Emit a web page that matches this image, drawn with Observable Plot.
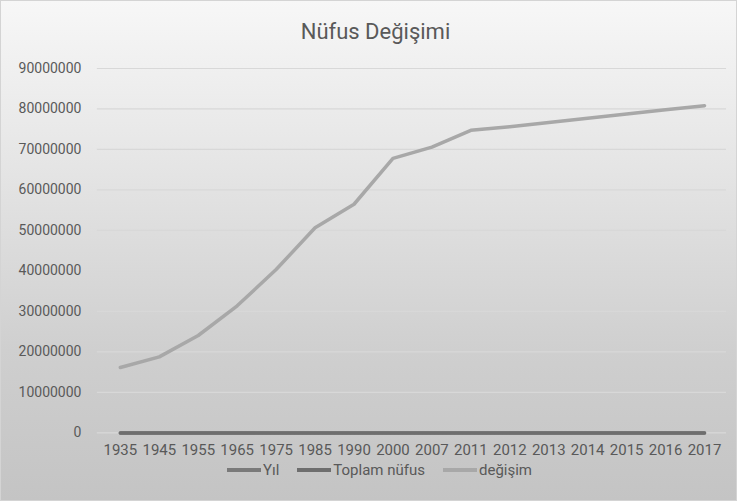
<!DOCTYPE html>
<html>
<head>
<meta charset="utf-8">
<script src="https://cdn.jsdelivr.net/npm/d3@7"></script>
<script src="https://cdn.jsdelivr.net/npm/@observablehq/plot@0.6"></script>
<style>
  html, body { margin: 0; padding: 0; }
  body { width: 737px; height: 501px; overflow: hidden; font-family: Roboto, "Open Sans", sans-serif; }
  #frame {
    position: relative; width: 735px; height: 499px;
    border: 1px solid #d4d4d4;
    background: linear-gradient(to bottom, #f7f7f7 0%, #e4e4e4 35%, #cfcfcf 70%, #c4c4c4 100%);
  }
  #title {
    position: absolute; left: 0; top: 17px; width: 100%;
    text-align: center; font-size: 22px; line-height: 28px; color: #595959;
    padding-left: 14px; box-sizing: border-box;
  }
  #chart { position: absolute; left: -1px; top: 49px; }
  #legend {
    position: absolute; left: 0; top: 461px; width: 100%;
    display: flex; justify-content: center; gap: 18px;
    font-size: 15px; color: #595959; line-height: 16px;
    padding-left: 22px; box-sizing: border-box;
  }
  .item { display: flex; align-items: center; }
  .sw { display: inline-block; width: 34px; height: 4px; margin-right: 2px; }
</style>
</head>
<body>
<div id="frame">
  <div id="title">Nüfus Değişimi</div>
  <div id="chart"></div>
  <div id="legend"></div>
</div>
<script>
// Categories (x axis)
const years = ["1935","1945","1955","1965","1975","1985","1990","2000","2007","2011","2012","2013","2014","2015","2016","2017"];
// Series values
const yil = [1935,1945,1955,1965,1975,1985,1990,2000,2007,2011,2012,2013,2014,2015,2016,2017];
const toplamNufus = [0,0,0,0,0,0,0,0,0,0,0,0,0,0,0,0];
const degisim = [16158018,18790174,24064763,31391421,40347719,50664458,56473035,67803927,70586256,74724269,75627384,76667864,77695904,78741053,79814871,80810525];
// Y tick labels
const yTicks = [0,10000000,20000000,30000000,40000000,50000000,60000000,70000000,80000000,90000000];

const seriesNames = ["Yıl","Toplam nüfus","değişim"];
const seriesColors = ["#7a7a7a","#6e6e6e","#a8a8a8"];
const seriesValues = [yil, toplamNufus, degisim];

const rows = [];
seriesNames.forEach((s, i) => {
  years.forEach((yr, j) => rows.push({series: s, year: yr, value: seriesValues[i][j]}));
});

const chart = Plot.plot({
  width: 737,
  height: 415,
  marginTop: 18,
  marginBottom: 32,
  marginLeft: 97,
  marginRight: 10,
  style: { background: "transparent", fontFamily: "Roboto, 'Open Sans', sans-serif", color: "#595959", overflow: "visible" },
  x: { type: "point", domain: years, padding: 0.5, label: null },
  y: { domain: [0, 90000000], label: null },
  color: { domain: seriesNames, range: seriesColors },
  marks: [
    Plot.ruleY(yTicks, { stroke: "#d8d8d8", strokeWidth: 1.2 }),
    Plot.axisY({ ticks: yTicks, tickSize: 0, tickPadding: 16, tickFormat: d => String(d), fontSize: 14, label: null, fill: "#595959" }),
    Plot.axisX({ tickSize: 0, tickPadding: 11, fontSize: 15, label: null, fill: "#595959" }),
    Plot.line(rows, { x: "year", y: "value", z: "series", stroke: "series", strokeWidth: 3.5, strokeLinecap: "round", strokeLinejoin: "round" })
  ]
});
document.getElementById("chart").appendChild(chart);

const legend = document.getElementById("legend");
seriesNames.forEach((s, i) => {
  const it = document.createElement("div");
  it.className = "item";
  const sw = document.createElement("span");
  sw.className = "sw";
  sw.style.background = seriesColors[i];
  const t = document.createElement("span");
  t.textContent = s;
  it.appendChild(sw); it.appendChild(t);
  legend.appendChild(it);
});
</script>
</body>
</html>
